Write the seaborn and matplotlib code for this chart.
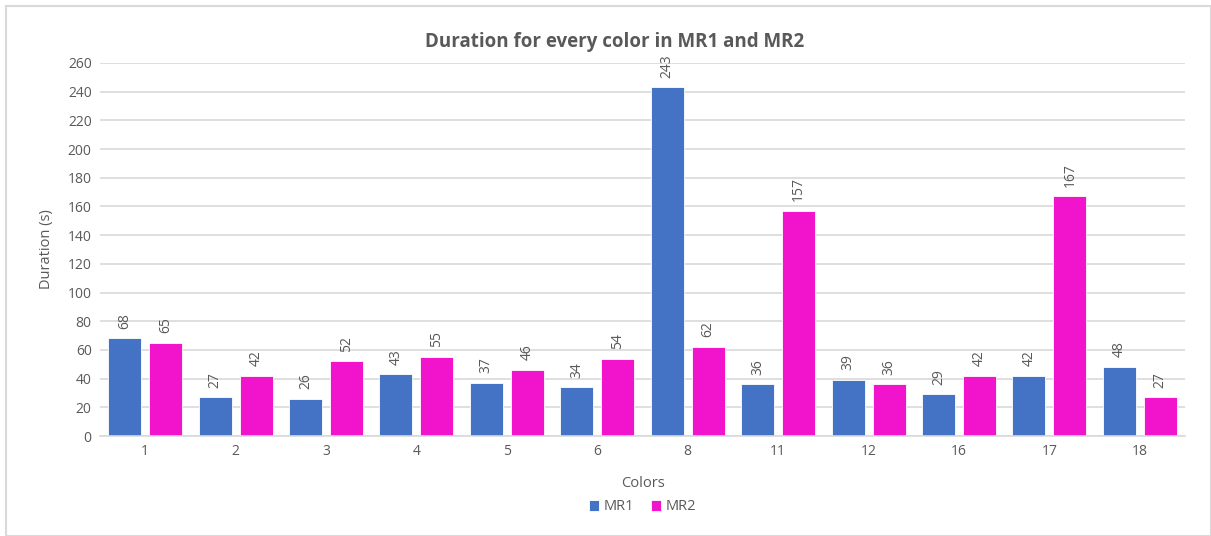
import matplotlib
matplotlib.use("Agg")
import matplotlib.pyplot as plt
import seaborn as sns
import pandas as pd
from matplotlib.patches import Rectangle

categories = ["1", "2", "3", "4", "5", "6", "8", "11", "12", "16", "17", "18"]
mr1 = [68, 27, 26, 43, 37, 34, 243, 36, 39, 29, 42, 48]
mr2 = [65, 42, 52, 55, 46, 54, 62, 157, 36, 42, 167, 27]
series = ["MR1", "MR2"]
colors = ["#4472C4", "#F214CD"]

df = pd.DataFrame({
    "Colors": categories * 2,
    "Duration": mr1 + mr2,
    "Series": [series[0]] * len(categories) + [series[1]] * len(categories),
})

sns.set_theme(style="white")
plt.rcParams["font.family"] = ["Open Sans", "DejaVu Sans"]
text_color = "#595959"

fig = plt.figure(figsize=(12.11, 5.36), dpi=100)
fig.patches.append(Rectangle((6 / 1211, 0), 1 - 6 / 1211, 1 - 6 / 536, transform=fig.transFigure,
                             fill=False, edgecolor="#D9D9D9", linewidth=1.5))
ax = fig.add_axes([100 / 1211, 1 - 436 / 536, 1085 / 1211, (436 - 63) / 536])

sns.barplot(data=df, x="Colors", y="Duration", hue="Series", order=categories,
            palette=colors, saturation=1, width=0.907, gap=0.195, ax=ax,
            edgecolor="white", linewidth=0.6, legend=True)

for cont in ax.containers:
    ax.bar_label(cont, rotation=90, padding=7, fontsize=10, color=text_color)

ax.set_ylim(0, 260)
ax.set_yticks(range(0, 261, 20))
ax.yaxis.grid(True, color="#D9D9D9", linewidth=1.2)
ax.set_axisbelow(True)
for s in ["top", "right", "left"]:
    ax.spines[s].set_visible(False)
ax.spines["bottom"].set_color("#D9D9D9")
ax.spines["bottom"].set_linewidth(1.2)
ax.tick_params(axis="both", length=0, labelsize=10, colors=text_color, pad=6)
ax.set_xlabel("Colors", fontsize=10.5, color=text_color, labelpad=12)
ax.set_ylabel("Duration (s)", fontsize=10.5, color=text_color, labelpad=10)
fig.suptitle("Duration for every color in MR1 and MR2", x=615 / 1211, y=1 - 42 / 536,
             va="center", fontsize=13.5, fontweight="bold", color=text_color)

leg = ax.legend(loc="center", bbox_to_anchor=(0.5, (436 - 507) / 373), ncol=2, frameon=False,
                fontsize=10.5, handlelength=0.7, handleheight=0.7, handletextpad=0.3,
                columnspacing=1.2)
for t in leg.get_texts():
    t.set_color(text_color)

fig.savefig("out.png", dpi=100)
